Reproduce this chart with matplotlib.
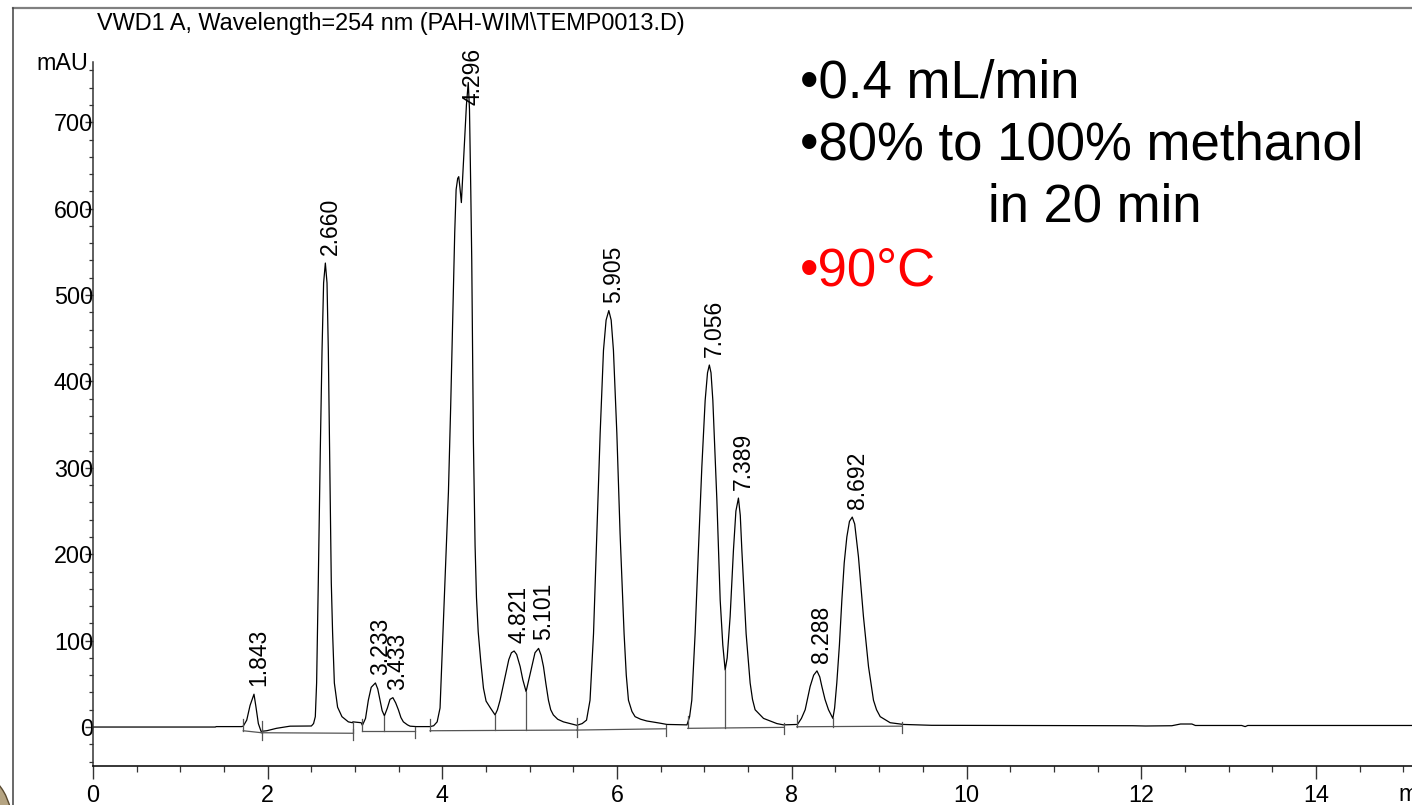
import numpy as np
import matplotlib
matplotlib.use("Agg")
import matplotlib.pyplot as plt
from matplotlib.ticker import MultipleLocator, FixedLocator
from matplotlib.lines import Line2D
from matplotlib.patches import Ellipse

plt.rcParams['font.family'] = ['Liberation Sans', 'DejaVu Sans']

# ---- data (time in min, signal in mAU) ----
trace_time = [
    0.00, 1.40, 1.41, 1.70,
    1.72, 1.76, 1.798, 1.843, 1.866, 1.893, 1.924, 1.989, 2.10, 2.256, 2.50,
    2.525, 2.545, 2.560, 2.579, 2.602, 2.622, 2.640, 2.660, 2.679, 2.694, 2.709,
    2.728, 2.743, 2.763, 2.800, 2.850, 2.923, 2.970, 2.975, 3.070,
    3.084, 3.12, 3.152, 3.185, 3.233, 3.26, 3.286, 3.31, 3.336, 3.37, 3.40,
    3.433, 3.465, 3.496, 3.525, 3.553, 3.60, 3.63, 3.70, 3.86,
    3.90, 3.94, 3.973, 4.011, 4.04, 4.069, 4.095, 4.118, 4.141, 4.157, 4.175,
    4.187, 4.20, 4.217, 4.25, 4.275, 4.296, 4.31, 4.325, 4.336, 4.355, 4.374,
    4.39, 4.41, 4.44, 4.47, 4.50, 4.55, 4.603,
    4.63, 4.66, 4.69, 4.718, 4.76, 4.79, 4.821, 4.85, 4.89, 4.92, 4.958,
    4.99, 5.024, 5.06, 5.101, 5.13, 5.157, 5.185, 5.214, 5.24, 5.27, 5.32,
    5.385, 5.46, 5.539, 5.60, 5.65,
    5.69, 5.73, 5.768, 5.806, 5.844, 5.874, 5.905, 5.932, 5.958, 5.997, 6.034,
    6.08, 6.105, 6.13, 6.17, 6.206, 6.27, 6.34, 6.49, 6.57, 6.80,
    6.83, 6.855, 6.893, 6.931, 6.97, 7.008, 7.035, 7.056, 7.075, 7.096, 7.142,
    7.18, 7.21, 7.237,
    7.26, 7.294, 7.332, 7.36, 7.389, 7.41, 7.428, 7.477, 7.523, 7.55, 7.58,
    7.676, 7.829, 7.905,
    8.065, 8.11, 8.153, 8.21, 8.25, 8.288, 8.32, 8.344, 8.38, 8.42, 8.47,
    8.49, 8.515, 8.545, 8.573, 8.60, 8.63, 8.66, 8.692, 8.72, 8.763, 8.82,
    8.878, 8.935, 8.97, 9.012, 9.126, 9.279,
    9.60, 10.5, 11.9, 12.05, 12.35, 12.45, 12.58, 12.62, 13.15, 13.19, 13.22, 15.10,
]
trace_mau = [
    0, 0, 0.5, 0.5,
    1, 8, 25, 38, 23, 4, -5, -4.3, -1.5, 1.0, 1.2,
    4, 12, 51, 167, 320, 436, 514, 537, 514, 436, 320,
    167, 109, 51, 23, 12, 6, 5, 6, 5,
    2, 10, 31, 46, 51, 44, 31, 19, 13, 22, 32,
    34, 28, 20, 11, 6, 2.5, 1, 0.5, 0.5,
    1.5, 6, 22, 122, 200, 272, 372, 472, 572, 622, 635,
    637, 625, 607, 670, 720, 746, 715, 620, 540, 330, 210,
    150, 110, 75, 45, 30, 22, 14,
    20, 31, 45, 58, 78, 86, 88, 84, 70, 55, 41,
    55, 70, 86, 91, 83, 70, 50, 31, 20, 14, 9,
    6, 4, 2, 4, 8,
    31, 108, 224, 340, 436, 471, 482, 471, 436, 340, 224,
    108, 60, 31, 18, 12, 9, 7, 4.5, 3, 2.5,
    12, 31, 108, 205, 301, 378, 410, 419, 410, 378, 263,
    147, 95, 66,
    80, 128, 205, 250, 265, 245, 205, 108, 51, 32, 20,
    10, 4, 2.5,
    3, 10, 20, 47, 60, 65, 58, 47, 32, 20, 10,
    22, 51, 95, 147, 190, 220, 238, 243, 235, 197, 128,
    70, 31, 20, 12, 5, 3,
    2, 1.8, 1.5, 1.2, 1.5, 3.5, 3.5, 1.8, 1.8, 0.5, 1.8, 1.8,
]

peak_rt = [1.843, 2.660, 3.233, 3.433, 4.296, 4.821, 5.101, 5.905,
           7.056, 7.389, 8.288, 8.692]

bl_start_t = [1.72, 1.93, 3.084, 3.859, 5.539, 6.809, 8.057]
bl_start_v = [-4.3, -6.6, -4.6, -4.3, -3.5, -1.5, 0.3]
bl_end_t = [1.93, 2.973, 3.687, 5.539, 6.561, 7.905, 9.26]
bl_end_v = [-6.6, -7.2, -4.6, -3.5, -2.0, -0.4, 1.0]
drop_t = [2.973, 3.336, 4.603, 4.958, 7.237, 8.47]

x_major = [0, 2, 4, 6, 8, 10, 12, 14]
y_major = [0, 100, 200, 300, 400, 500, 600, 700]

title = "VWD1 A, Wavelength=254 nm (PAH-WIM\\TEMP0013.D)"
notes = ["\u20220.4 mL/min", "\u202280% to 100% methanol", "in 20 min"]
note_red = "\u202290\u00b0C"

# ---- figure ----
W, H = 1412, 805
fig = plt.figure(figsize=(W / 100, H / 100), dpi=100)
ax = fig.add_axes([93 / W, 39 / H, (W - 93) / W, 704 / H])
ax.set_xlim(0, 15.10)
ax.set_ylim(-45.1, 769.7)

tt = np.array(trace_time)
yy = np.array(trace_mau)
ax.plot(tt, yy, color='black', lw=0.9, solid_joinstyle='round')

px = 1 / 0.864  # mAU per pixel
bl_col = '#555555'
for ts, vs, te, ve in zip(bl_start_t, bl_start_v, bl_end_t, bl_end_v):
    ax.plot([ts, te], [vs, ve], color=bl_col, lw=0.9)
    ax.plot([ts, ts], [vs, vs + 12 * px], color=bl_col, lw=0.9)
    ax.plot([te, te], [ve - 7 * px, ve + 4 * px], color=bl_col, lw=0.9)

for td in drop_t:
    for ts, vs, te, ve in zip(bl_start_t, bl_start_v, bl_end_t, bl_end_v):
        if ts - 1e-6 <= td <= te + 1e-6:
            base = np.interp(td, [ts, te], [vs, ve])
            top = np.interp(td, tt, yy)
            ax.plot([td, td], [base, top], color=bl_col, lw=0.9)
            break

for rt in peak_rt:
    apex = np.interp(rt, tt, yy)
    ylab = min(apex, 711)
    ax.annotate(f"{rt:.3f}", xy=(rt, ylab), xytext=(5, 8),
                textcoords='offset pixels', rotation=90, ha='center',
                va='bottom', fontsize=16.5, color='black')

for s in ['top', 'right']:
    ax.spines[s].set_visible(False)
ax.spines['left'].set_color('#333333')
ax.spines['left'].set_linewidth(1.1)
ax.spines['bottom'].set_color('black')
ax.spines['bottom'].set_linewidth(1.1)

ax.xaxis.set_major_locator(FixedLocator(x_major))
ax.xaxis.set_minor_locator(MultipleLocator(0.5))
ax.yaxis.set_major_locator(FixedLocator(y_major))
ax.yaxis.set_minor_locator(FixedLocator(np.arange(-40, 770, 20)))
ax.set_xticklabels([str(v) for v in x_major])
ax.set_yticklabels([str(v) for v in y_major])
ax.tick_params(axis='x', which='major', length=9.4, width=1.0, direction='out',
               labelsize=16.8, pad=3.5, color='#333333')
ax.tick_params(axis='x', which='minor', length=4.3, width=0.9, direction='out',
               color='#333333')
ax.tick_params(axis='y', which='major', length=5.8, width=1.0, direction='out',
               labelsize=16.8, pad=-5.8, color='#333333')
ax.tick_params(axis='y', which='minor', length=3.2, width=0.9, direction='out',
               color='#333333')

# ---- texts ----
fig.text(97 / W, 1 - 30 / H, title, fontsize=16.9, va='baseline', ha='left')
fig.text(88 / W, 1 - 70 / H, "mAU", fontsize=16.8, va='baseline', ha='right')
fig.text(1398 / W, 1 - 801 / H, "min", fontsize=16.8, va='baseline', ha='left')

fig.text(800 / W, 1 - 97 / H, notes[0], fontsize=38, va='baseline', ha='left')
fig.text(800 / W, 1 - 160 / H, notes[1], fontsize=38, va='baseline', ha='left')
fig.text(988 / W, 1 - 222 / H, notes[2], fontsize=38, va='baseline', ha='left')
fig.text(800 / W, 1 - 285 / H, note_red, fontsize=38, va='baseline', ha='left',
         color='#ff0000')

# ---- slide frame decorations ----
fig.add_artist(Line2D([13 / W, 1], [1 - 8.5 / H, 1 - 8.5 / H],
                      transform=fig.transFigure, color='#808080', lw=1.6))
fig.add_artist(Line2D([13 / W, 13 / W], [1 - 8 / H, 0],
                      transform=fig.transFigure, color='#404040', lw=1.1))
fig.add_artist(Ellipse((-20 / W, -25 / H), 66 / W, 110 / H,
                       transform=fig.transFigure, facecolor='#b5a482',
                       edgecolor='#5a4a30', lw=1.0))

fig.savefig("out.png", dpi=100)
